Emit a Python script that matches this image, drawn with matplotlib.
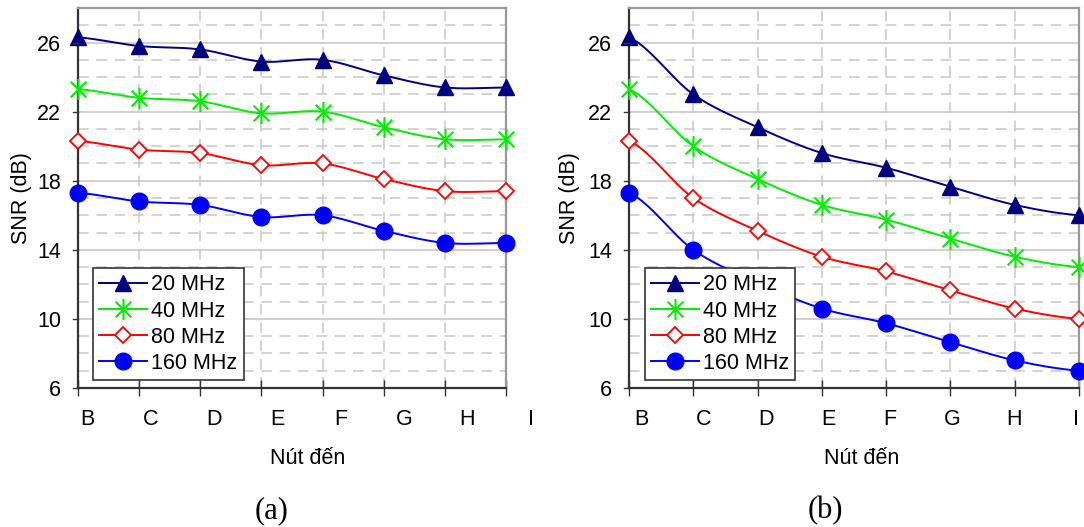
import numpy as np
import matplotlib
matplotlib.use("Agg")
import matplotlib.pyplot as plt
from matplotlib.path import Path

nodes = ['B', 'C', 'D', 'E', 'F', 'G', 'H', 'I']
bands = ['20 MHz', '40 MHz', '80 MHz', '160 MHz']

# (a)
snr_a_20 = [26.3, 25.8, 25.6, 24.9, 25.0, 24.1, 23.4, 23.4]
snr_a_40 = [23.3, 22.8, 22.6, 21.9, 22.0, 21.1, 20.4, 20.4]
snr_a_80 = [20.3, 19.8, 19.6, 18.9, 19.0, 18.1, 17.4, 17.4]
snr_a_160 = [17.3, 16.8, 16.6, 15.9, 16.0, 15.1, 14.4, 14.4]

# (b)
snr_b_20 = [26.3, 23.0, 21.1, 19.6, 18.75, 17.65, 16.6, 16.0]
snr_b_40 = [23.3, 20.0, 18.1, 16.6, 15.75, 14.65, 13.6, 13.0]
snr_b_80 = [20.3, 17.0, 15.1, 13.6, 12.75, 11.65, 10.6, 10.0]
snr_b_160 = [17.3, 14.0, 12.1, 10.6, 9.75, 8.65, 7.6, 7.0]

plt.rcParams['font.family'] = ['Liberation Sans', 'DejaVu Sans']
FS = 15.5

# asterisk marker: vertical bar + X
star = Path([(0, -1), (0, 1), (-0.75, -0.75), (0.75, 0.75), (-0.75, 0.75), (0.75, -0.75)],
            [Path.MOVETO, Path.LINETO, Path.MOVETO, Path.LINETO, Path.MOVETO, Path.LINETO])

styles = [
    dict(color='#000080', marker='^', ms=12, mfc='#000080', mec='#000080'),
    dict(color='#00ee00', marker=star, ms=15, mfc='none', mec='#00ee00', mew=1.5),
    dict(color='#ff0000', marker='D', ms=8, mfc='white', mec='#ff0000', mew=1.3),
    dict(color='#0000ff', marker='o', ms=12, mfc='#0000ff', mec='#0000ff'),
]


def smooth(y, n=25):
    # catmull-rom style smoothing like excel's smoothed lines
    y = np.asarray(y, float)
    yp = np.r_[y[0], y, y[-1]]
    m = (yp[2:] - yp[:-2]) / 2
    xs, ys = [], []
    for i in range(len(y) - 1):
        t = np.linspace(0, 1, n)
        h00 = 2*t**3 - 3*t**2 + 1
        h10 = t**3 - 2*t**2 + t
        h01 = -2*t**3 + 3*t**2
        h11 = t**3 - t**2
        xs.append(i + t)
        ys.append(h00*y[i] + h10*m[i] + h01*y[i+1] + h11*m[i+1])
    return np.concatenate(xs), np.concatenate(ys)


def panel(ax, series, lbl_start, lbl_step):
    x = np.arange(len(nodes))
    for vals, st, name in zip(series, styles, bands):
        sx, sy = smooth(vals)
        ax.plot(sx, sy, color=st['color'], lw=1.4, zorder=3, clip_on=False)
        ax.plot(x, vals, ls='none', marker=st['marker'], ms=st['ms'], mfc=st['mfc'],
                mec=st['mec'], mew=st.get('mew', 1), zorder=4, clip_on=False)
        # legend proxy
        ax.plot([], [], color=st['color'], lw=1.4, marker=st['marker'], ms=st['ms'],
                mfc=st['mfc'], mec=st['mec'], mew=st.get('mew', 1), label=name)
    ax.set_xticks(x, [''] * len(x))
    ax.set_yticks([6, 10, 14, 18, 22, 26])
    ax.set_yticks(np.arange(6, 29, 1), minor=True)
    ax.set_xlim(0, 7)
    ax.set_ylim(6, 28)
    # category labels (slightly offset from the ticks as in the original)
    for i, name in enumerate(nodes):
        ax.text(lbl_start + lbl_step * i, -0.083, name, transform=ax.get_xaxis_transform(),
                ha='center', va='center', fontsize=FS, clip_on=False)
    ax.tick_params(axis='x', which='major', direction='inout', length=11, width=1, color='#333333')
    ax.tick_params(axis='y', which='major', direction='in', length=0, pad=12, labelsize=FS)
    ax.tick_params(axis='y', which='minor', length=0)
    # gridlines
    ax.grid(True, axis='y', which='major', color='#c8c8c8', lw=1.2, ls='-', zorder=0)
    ax.grid(True, axis='y', which='minor', color='#c8c8c8', lw=1.1, ls=(0, (7, 5)), zorder=0)
    for xi in x[1:-1]:
        ax.axvline(xi, color='#c8c8c8', lw=1.1, ls=(0, (7, 5)), zorder=0)
    for yi in [6, 10, 14, 18, 22, 26]:
        ax.plot([-0.08, 0], [yi, yi], color='#333333', lw=1, clip_on=False, zorder=5)
    for s in ['left', 'bottom']:
        ax.spines[s].set_color('#333333')
        ax.spines[s].set_linewidth(1.6)
    for s in ['top', 'right']:
        ax.spines[s].set_color('#999999')
        ax.spines[s].set_linewidth(1.6)
    leg = ax.legend(loc='lower left', bbox_to_anchor=(0.035, 0.02), fontsize=15.5,
                    handlelength=2.2, handletextpad=0.2, borderpad=0.3, labelspacing=0.24,
                    fancybox=False, framealpha=1, edgecolor='#333333', borderaxespad=0)
    leg.get_frame().set_linewidth(1.2)
    leg.set_zorder(10)


fig = plt.figure(figsize=(10.84, 5.27), dpi=100)
W, H = 1084, 527
ax1 = fig.add_axes([78 / W, 1 - 388 / H, 428 / W, 380 / H])
ax2 = fig.add_axes([629 / W, 1 - 388 / H, 450 / W, 380 / H])

panel(ax1, [snr_a_20, snr_a_40, snr_a_80, snr_a_160], 0.16, 1.035)
panel(ax2, [snr_b_20, snr_b_40, snr_b_80, snr_b_160], 0.2, 0.965)

fig.text(22 / W, 1 - 198 / H, 'SNR (dB)', rotation=90, ha='center', va='center', fontsize=FS)
fig.text(570 / W, 1 - 198 / H, 'SNR (dB)', rotation=90, ha='center', va='center', fontsize=FS)
fig.text(308 / W, 1 - 458 / H, 'Nút đến', ha='center', va='center', fontsize=FS)
fig.text(862 / W, 1 - 458 / H, 'Nút đến', ha='center', va='center', fontsize=FS)
fig.text(272 / W, 1 - 511 / H, '(a)', ha='center', va='center', fontsize=22,
         family=['Liberation Serif', 'DejaVu Serif'])
fig.text(825 / W, 1 - 511 / H, '(b)', ha='center', va='center', fontsize=22,
         family=['Liberation Serif', 'DejaVu Serif'])

fig.savefig('out.png', dpi=100)
